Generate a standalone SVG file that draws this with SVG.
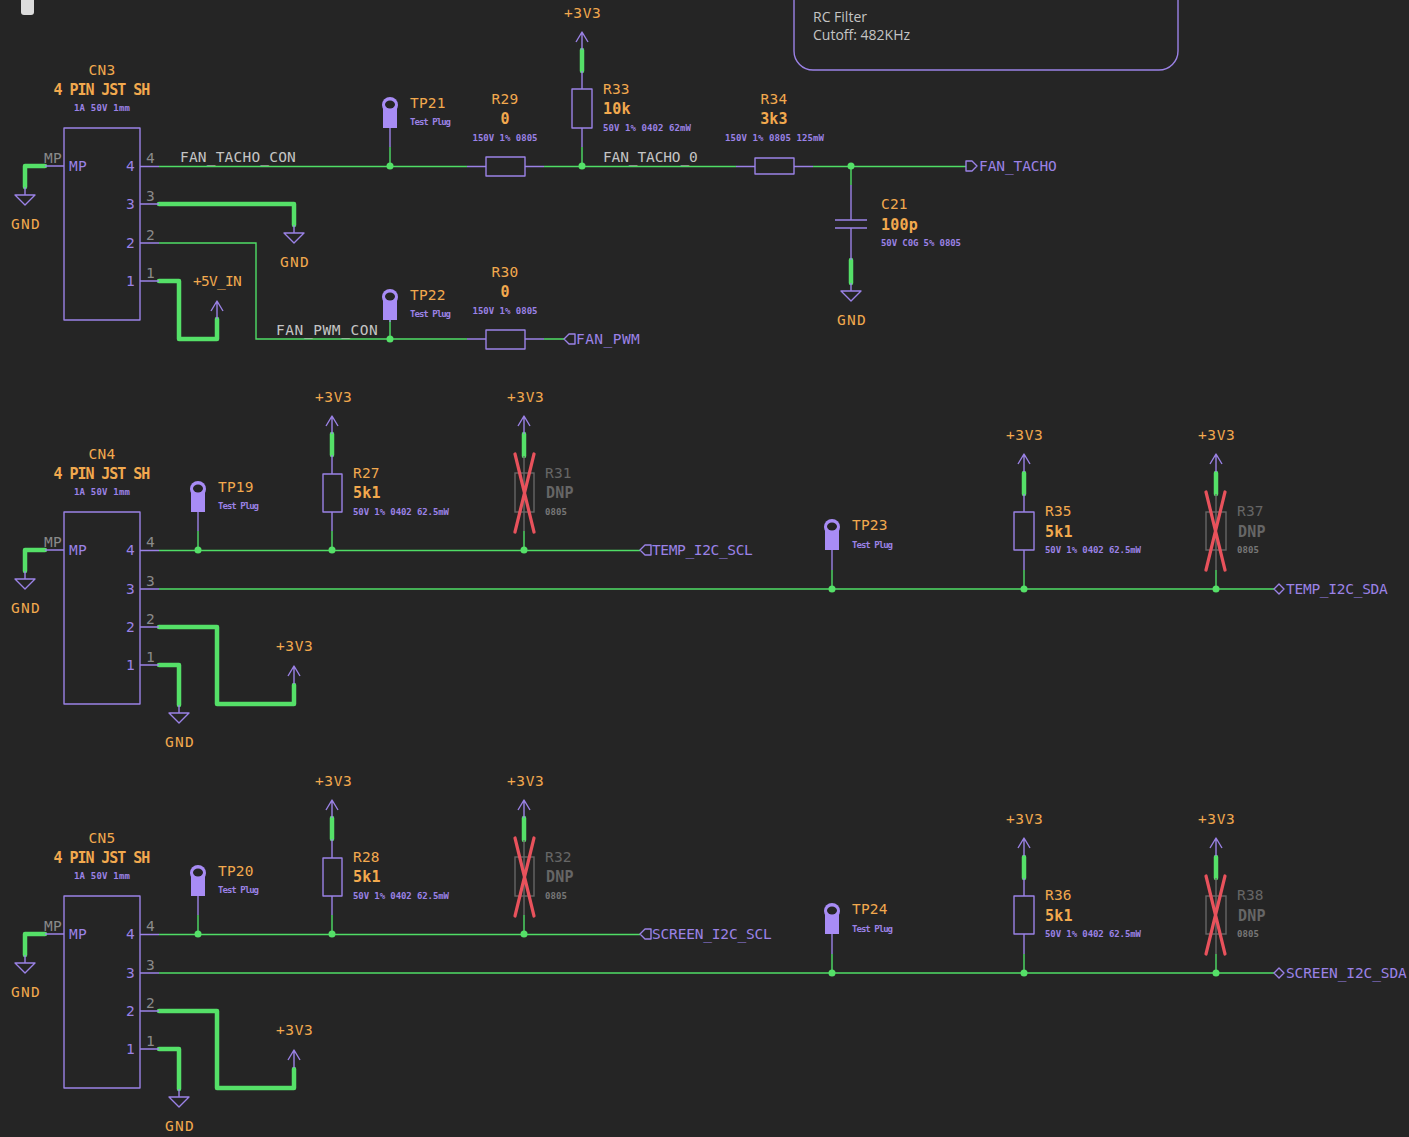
<svg xmlns="http://www.w3.org/2000/svg" width="1409" height="1137" viewBox="0 0 1409 1137">
<style>
text{font-family:"DejaVu Sans Mono",monospace;font-size:14.5px;letter-spacing:.2px}
.o{fill:#f2a94e}
.ob{fill:#f2a94e;font-weight:700;font-size:15px;transform:translateY(1px)}
.p{fill:#9b82e6}
.s{fill:#9b82e6;font-size:9px;font-weight:700;letter-spacing:0}
.g{fill:#8a8a8a}
.w{fill:#c4c4c4}
.dn{fill:#666}
.db{fill:#666;font-weight:700;font-size:15px;transform:translateY(1px)}
.ds{fill:#777;font-size:9px;font-weight:700;letter-spacing:0}
.m{text-anchor:middle}
.e{text-anchor:end}
.l,.sym{fill:none;stroke:#9b82e6;stroke-width:1.4;stroke-linejoin:round}
.t{fill:none;stroke:#4fdd66;stroke-width:1.4}
.b{fill:none;stroke:#55e068;stroke-width:4.5;stroke-linecap:round;stroke-linejoin:round}
.gr{fill:none;stroke:#666;stroke-width:1.4}
.x{fill:none;stroke:#e8525c;stroke-width:3.2;stroke-linecap:round}
.d{fill:#55e068}
.n{font-family:"Open Sans",sans-serif;font-size:14px;letter-spacing:0;fill:#c4c4c4}
</style>
<defs>
<g id="gnd"><path class="l" d="M0-8V0M-10 0H10L0 10Z"/></g>
<g id="pwr"><path class="l" d="M0 18V0M-6 10L0 0L6 10"/></g>
<g id="tp"><path d="M-7 0V-23H7V0Z" fill="#a88cf5"/><circle cy="-23" r="8" fill="#a88cf5"/><ellipse cy="-23.5" rx="5" ry="4" fill="#252525"/></g>
</defs>
<rect width="1409" height="1137" fill="#252525"/>
<rect x="21" y="-6" width="13" height="21" rx="3" fill="#dcdcdc"/>

<g id="connectors">
<path class="b" d="M45 166H25V187M159 204H294V225M159 281H179V339H217V319M582 50V71M851 260V283"/>
<path class="t" d="M159 166.5H467M544 166.5H736M813 166.5H966M159 243H256V339H467M544 339H564M390 147V166M390 320V339M582 147V166M851 166V185"/>
<path class="b" d="M45 550H25V571M159 627H217V704H294V685M159 665H179V705M332 434V455M524 434V456M1024 473V494M1216 473V494"/>
<path class="t" d="M159 550.5H640M159 589H1274M198 531V550M332 531V550M524 531V550M832 570V589M1024 570V589M1216 570V589"/>
<path class="b" d="M45 934H25V955M159 1011H217V1088H294V1069M159 1049H179V1089M332 818V839M524 818V840M1024 857V878M1216 857V878"/>
<path class="t" d="M159 934.5H640M159 973H1274M198 915V934M332 915V934M524 915V934M832 954V973M1024 954V973M1216 954V973"/>
<circle class="d" cx="390" cy="166" r="3.5"/><circle class="d" cx="582" cy="166" r="3.5"/><circle class="d" cx="851" cy="166" r="3.5"/><circle class="d" cx="390" cy="339" r="3.5"/>
<circle class="d" cx="198" cy="550" r="3.5"/><circle class="d" cx="332" cy="550" r="3.5"/><circle class="d" cx="524" cy="550" r="3.5"/><circle class="d" cx="832" cy="589" r="3.5"/><circle class="d" cx="1024" cy="589" r="3.5"/><circle class="d" cx="1216" cy="589" r="3.5"/>
<circle class="d" cx="198" cy="934" r="3.5"/><circle class="d" cx="332" cy="934" r="3.5"/><circle class="d" cx="524" cy="934" r="3.5"/><circle class="d" cx="832" cy="973" r="3.5"/><circle class="d" cx="1024" cy="973" r="3.5"/><circle class="d" cx="1216" cy="973" r="3.5"/>
</g>

<g id="note"><rect x="794" y="-40" width="384" height="110" rx="19" fill="none" stroke="#9b82e6" stroke-width="1.4"/>
<text class="n" x="813" y="22">RC Filter</text><text class="n" x="813" y="40">Cutoff: 482KHz</text></g>

<g id="CN3"><rect class="l" x="64" y="128" width="76" height="192"/><path class="l" d="M64 166H45M140 166.5H159M140 204H159M140 243H159M140 281H159"/>
<text class="o m" x="102" y="75">CN3</text><text class="ob m" x="102" y="94" textLength="97">4 PIN JST SH</text><text class="s m" x="102" y="111" textLength="56">1A 50V 1mm</text>
<text class="g" x="44" y="163">MP</text><text class="p" x="69" y="171">MP</text>
<text class="p e" x="135" y="171">4</text><text class="p e" x="135" y="209">3</text><text class="p e" x="135" y="248">2</text><text class="p e" x="135" y="286">1</text>
<text class="g" x="146" y="163">4</text><text class="g" x="146" y="201">3</text><text class="g" x="146" y="240">2</text><text class="g" x="146" y="278">1</text></g>
<g id="CN3-labels"><text class="w" x="180" y="162" textLength="116">FAN_TACHO_CON</text><text class="w" x="276" y="335" textLength="102">FAN_PWM_CON</text><text class="w" x="603" y="162" textLength="95">FAN_TACHO_0</text></g>
<g id="GND1"><use href="#gnd" x="25" y="195"/><text class="o m" x="25.5" y="229" textLength="29">GND</text></g>
<g id="GND2"><use href="#gnd" x="294" y="233"/><text class="o m" x="294.5" y="267" textLength="29">GND</text></g>
<g id="P5V"><use href="#pwr" x="217" y="301"/><text class="o m" x="217.5" y="286" textLength="49">+5V_IN</text></g>
<g id="TP21"><path class="l" d="M390 128V147"/><use href="#tp" x="390" y="128"/><text class="o" x="410" y="108">TP21</text><text class="s" x="410" y="125" textLength="41">Test Plug</text></g>
<g id="TP22"><path class="l" d="M390 320V322"/><use href="#tp" x="390" y="320"/><text class="o" x="410" y="300">TP22</text><text class="s" x="410" y="317" textLength="41">Test Plug</text></g>
<g id="R29"><rect class="l" x="486" y="157" width="39" height="19"/><path class="l" d="M467 166.5H486M525 166.5H544"/><text class="o m" x="505" y="104">R29</text><text class="ob m" x="505" y="123">0</text><text class="s m" x="505" y="141" textLength="65">150V 1% 0805</text></g>
<g id="R30"><rect class="l" x="486" y="330" width="39" height="19"/><path class="l" d="M467 339H486M525 339H544"/><text class="o m" x="505" y="277">R30</text><text class="ob m" x="505" y="296">0</text><text class="s m" x="505" y="314" textLength="65">150V 1% 0805</text></g>
<g id="R33"><rect class="l" x="572" y="89" width="20" height="39"/><path class="l" d="M582 71V89M582 128V147"/><use href="#pwr" x="582" y="32"/><text class="o m" x="582.5" y="18" textLength="37">+3V3</text><text class="o" x="603" y="94">R33</text><text class="ob" x="603" y="113">10k</text><text class="s" x="603" y="131" textLength="88">50V 1% 0402 62mW</text></g>
<g id="R34"><rect class="l" x="755" y="158" width="39" height="16"/><path class="l" d="M736 166.5H755M794 166.5H813"/><text class="o m" x="774" y="104">R34</text><text class="ob m" x="774" y="123">3k3</text><text class="s m" x="774.5" y="141" textLength="99">150V 1% 0805 125mW</text></g>
<g id="C21"><path class="l" d="M851 185V220M835 220H867M835 228H867M851 228V260"/><text class="o" x="881" y="209">C21</text><text class="ob" x="881" y="229">100p</text><text class="s" x="881" y="246" textLength="80">50V C0G 5% 0805</text></g>
<g id="GND3"><use href="#gnd" x="851" y="291"/><text class="o m" x="851.5" y="325" textLength="29">GND</text></g>
<g id="FAN_TACHO"><path class="l" d="M966 161H972L977 166L972 171H966Z"/><text class="p" x="979" y="171" textLength="78">FAN_TACHO</text></g>
<g id="FAN_PWM"><path class="l" d="M575 334H569L564 339L569 344H575Z"/><text class="p" x="576" y="344" textLength="64">FAN_PWM</text></g>

<g id="CN4"><rect class="l" x="64" y="512" width="76" height="192"/><path class="l" d="M64 550H45M140 550.5H159M140 589H159M140 627H159M140 665H159"/>
<text class="o m" x="102" y="459">CN4</text><text class="ob m" x="102" y="478" textLength="97">4 PIN JST SH</text><text class="s m" x="102" y="495" textLength="56">1A 50V 1mm</text>
<text class="g" x="44" y="547">MP</text><text class="p" x="69" y="555">MP</text>
<text class="p e" x="135" y="555">4</text><text class="p e" x="135" y="594">3</text><text class="p e" x="135" y="632">2</text><text class="p e" x="135" y="670">1</text>
<text class="g" x="146" y="547">4</text><text class="g" x="146" y="586">3</text><text class="g" x="146" y="624">2</text><text class="g" x="146" y="662">1</text></g>
<g id="GND4"><use href="#gnd" x="25" y="579"/><text class="o m" x="25.5" y="613" textLength="29">GND</text></g>
<g id="GND5"><use href="#gnd" x="179" y="713"/><text class="o m" x="179.5" y="747" textLength="29">GND</text></g>
<g id="P3V3a"><use href="#pwr" x="294" y="666"/><text class="o m" x="294.5" y="651" textLength="37">+3V3</text></g>
<g id="TP19"><path class="l" d="M198 512V531"/><use href="#tp" x="198" y="512"/><text class="o" x="218" y="492">TP19</text><text class="s" x="218" y="509" textLength="41">Test Plug</text></g>
<g id="R27"><rect class="l" x="323" y="474" width="19" height="38"/><path class="l" d="M332 455V474M332 512V531"/><use href="#pwr" x="332" y="416"/><text class="o m" x="333.5" y="402" textLength="37">+3V3</text><text class="o" x="353" y="478">R27</text><text class="ob" x="353" y="497">5k1</text><text class="s" x="353" y="515" textLength="96">50V 1% 0402 62.5mW</text></g>
<g id="R31"><path class="gr" d="M524 456V531"/><rect class="gr" x="515" y="473" width="19" height="39"/><use href="#pwr" x="524" y="416"/><text class="o m" x="525.5" y="402" textLength="37">+3V3</text><path class="x" d="M515 454L534 532M534 454L515 532"/><text class="dn" x="545" y="478">R31</text><text class="db" x="546" y="497">DNP</text><text class="ds" x="545" y="515" textLength="22">0805</text></g>
<g id="TEMP_I2C_SCL"><path class="l" d="M651 545H645L640 550L645 555H651Z"/><text class="p" x="652" y="555" textLength="101">TEMP_I2C_SCL</text></g>
<g id="TP23"><path class="l" d="M832 550V570"/><use href="#tp" x="832" y="550"/><text class="o" x="852" y="530">TP23</text><text class="s" x="852" y="548" textLength="41">Test Plug</text></g>
<g id="R35"><rect class="l" x="1014" y="512" width="20" height="38"/><path class="l" d="M1024 494V512M1024 550V570"/><use href="#pwr" x="1024" y="454"/><text class="o m" x="1024.5" y="440" textLength="37">+3V3</text><text class="o" x="1045" y="516">R35</text><text class="ob" x="1045" y="536">5k1</text><text class="s" x="1045" y="553" textLength="96">50V 1% 0402 62.5mW</text></g>
<g id="R37"><path class="gr" d="M1216 494V570"/><rect class="gr" x="1206" y="512" width="20" height="38"/><use href="#pwr" x="1216" y="454"/><text class="o m" x="1216.5" y="440" textLength="37">+3V3</text><path class="x" d="M1225 492L1206 570M1206 492L1225 570"/><text class="dn" x="1237" y="516">R37</text><text class="db" x="1238" y="536">DNP</text><text class="ds" x="1237" y="553" textLength="22">0805</text></g>
<g id="TEMP_I2C_SDA"><path class="l" d="M1274 589L1279 584L1284 589L1279 594Z"/><text class="p" x="1286" y="594" textLength="102">TEMP_I2C_SDA</text></g>

<g id="CN5"><rect class="l" x="64" y="896" width="76" height="192"/><path class="l" d="M64 934H45M140 934.5H159M140 973H159M140 1011H159M140 1049H159"/>
<text class="o m" x="102" y="843">CN5</text><text class="ob m" x="102" y="862" textLength="97">4 PIN JST SH</text><text class="s m" x="102" y="879" textLength="56">1A 50V 1mm</text>
<text class="g" x="44" y="931">MP</text><text class="p" x="69" y="939">MP</text>
<text class="p e" x="135" y="939">4</text><text class="p e" x="135" y="978">3</text><text class="p e" x="135" y="1016">2</text><text class="p e" x="135" y="1054">1</text>
<text class="g" x="146" y="931">4</text><text class="g" x="146" y="970">3</text><text class="g" x="146" y="1008">2</text><text class="g" x="146" y="1046">1</text></g>
<g id="GND6"><use href="#gnd" x="25" y="963"/><text class="o m" x="25.5" y="997" textLength="29">GND</text></g>
<g id="GND7"><use href="#gnd" x="179" y="1097"/><text class="o m" x="179.5" y="1131" textLength="29">GND</text></g>
<g id="P3V3b"><use href="#pwr" x="294" y="1050"/><text class="o m" x="294.5" y="1035" textLength="37">+3V3</text></g>
<g id="TP20"><path class="l" d="M198 896V915"/><use href="#tp" x="198" y="896"/><text class="o" x="218" y="876">TP20</text><text class="s" x="218" y="893" textLength="41">Test Plug</text></g>
<g id="R28"><rect class="l" x="323" y="858" width="19" height="38"/><path class="l" d="M332 839V858M332 896V915"/><use href="#pwr" x="332" y="800"/><text class="o m" x="333.5" y="786" textLength="37">+3V3</text><text class="o" x="353" y="862">R28</text><text class="ob" x="353" y="881">5k1</text><text class="s" x="353" y="899" textLength="96">50V 1% 0402 62.5mW</text></g>
<g id="R32"><path class="gr" d="M524 840V915"/><rect class="gr" x="515" y="857" width="19" height="39"/><use href="#pwr" x="524" y="800"/><text class="o m" x="525.5" y="786" textLength="37">+3V3</text><path class="x" d="M515 838L534 916M534 838L515 916"/><text class="dn" x="545" y="862">R32</text><text class="db" x="546" y="881">DNP</text><text class="ds" x="545" y="899" textLength="22">0805</text></g>
<g id="SCREEN_I2C_SCL"><path class="l" d="M651 929H645L640 934L645 939H651Z"/><text class="p" x="652" y="939" textLength="120">SCREEN_I2C_SCL</text></g>
<g id="TP24"><path class="l" d="M832 934V954"/><use href="#tp" x="832" y="934"/><text class="o" x="852" y="914">TP24</text><text class="s" x="852" y="932" textLength="41">Test Plug</text></g>
<g id="R36"><rect class="l" x="1014" y="896" width="20" height="38"/><path class="l" d="M1024 878V896M1024 934V954"/><use href="#pwr" x="1024" y="838"/><text class="o m" x="1024.5" y="824" textLength="37">+3V3</text><text class="o" x="1045" y="900">R36</text><text class="ob" x="1045" y="920">5k1</text><text class="s" x="1045" y="937" textLength="96">50V 1% 0402 62.5mW</text></g>
<g id="R38"><path class="gr" d="M1216 878V954"/><rect class="gr" x="1206" y="896" width="20" height="38"/><use href="#pwr" x="1216" y="838"/><text class="o m" x="1216.5" y="824" textLength="37">+3V3</text><path class="x" d="M1225 876L1206 954M1206 876L1225 954"/><text class="dn" x="1237" y="900">R38</text><text class="db" x="1238" y="920">DNP</text><text class="ds" x="1237" y="937" textLength="22">0805</text></g>
<g id="SCREEN_I2C_SDA"><path class="l" d="M1274 973L1279 968L1284 973L1279 978Z"/><text class="p" x="1286" y="978" textLength="121">SCREEN_I2C_SDA</text></g>
</svg>
